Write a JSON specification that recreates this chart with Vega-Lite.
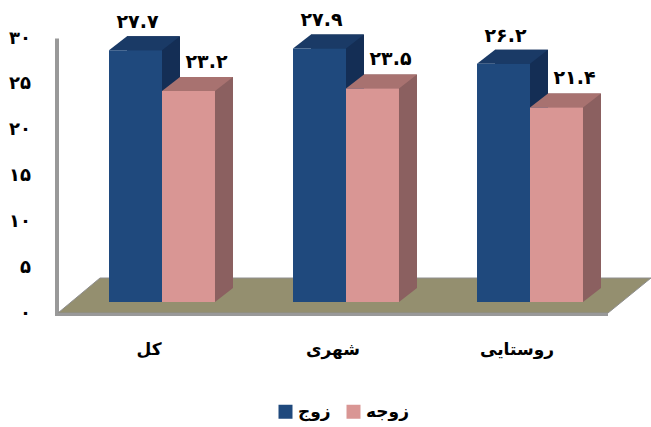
{
"$schema":"https://vega.github.io/schema/vega-lite/v6.json",
"width":651,"height":427,"padding":0,"autosize":{"type":"none"},
"background":"#ffffff",
"config":{"view":{"stroke":null},"font":"DejaVu Sans"},
"data":{"values":[
{"group":"کل","series":"زوج","value":27.7,"label":"۲۷.۷"},
{"group":"کل","series":"زوجه","value":23.2,"label":"۲۳.۲"},
{"group":"شهری","series":"زوج","value":27.9,"label":"۲۷.۹"},
{"group":"شهری","series":"زوجه","value":23.5,"label":"۲۳.۵"},
{"group":"روستایی","series":"زوج","value":26.2,"label":"۲۶.۲"},
{"group":"روستایی","series":"زوجه","value":21.4,"label":"۲۱.۴"}
]},
"layer":[
{"encoding":{
  "x":{"field":"group","type":"nominal","sort":null,"title":null,
    "scale":{"domain":["کل","شهری","روستایی"],"range":[70,622],"paddingInner":0.424,"paddingOuter":0.212},
    "axis":{"orient":"bottom","offset":-86,"domain":false,"ticks":false,"labelPadding":0,"labelOffset":-13,"labelAngle":0,"labelFont":"DejaVu Sans","labelFontWeight":"bold","labelFontSize":17,"labelColor":"#000000","grid":false}},
  "y":{"field":"value","type":"quantitative","title":null,
    "scale":{"domain":[0,30],"range":[313,38],"nice":false,"zero":false},
    "axis":{"orient":"left","offset":-56.5,"values":[0,5,10,15,20,25,30],"grid":false,"ticks":false,"domain":true,"domainColor":"#999999","domainWidth":4,"labelPadding":26,"labelFont":"DejaVu Sans","labelFontWeight":"bold","labelFontSize":18,"labelColor":"#000000",
      "labelExpr":"{'0':'۰','5':'۵','10':'۱۰','15':'۱۵','20':'۲۰','25':'۲۵','30':'۳۰'}[datum.label]"}}
 },
 "layer":[
  {"mark":{"type":"point","opacity":0}},
  {"data":{"values":[{"group":"شهری","value":0}]},
   "mark":{"type":"point","filled":true,"opacity":1,"size":4,"shape":"M-288,0 L-246,-35 L305,-35 L262,0 Z","fill":"#948f6f","stroke":"#8e8e8e","strokeWidth":1}},
  {"data":{"values":[{"group":"شهری","value":0}]},
   "mark":{"type":"point","filled":true,"opacity":1,"size":4,"shape":"M-291,0 L262,0 L262,3 L-291,3 Z","fill":"#999999","strokeWidth":0}}
 ]},
{"encoding":{
  "x":{"field":"group","type":"nominal","sort":null,"title":null,
    "scale":{"domain":["کل","شهری","روستایی"],"range":[70,622],"paddingInner":0.424,"paddingOuter":0.212}},
  "y":{"field":"value","type":"quantitative","title":null,"axis":null,"stack":null,
    "scale":{"domain":[0,30],"range":[302,29.3],"nice":false,"zero":false}}
 },
 "layer":[
  {"mark":{"type":"bar","width":53,"xOffset":{"expr":"datum.series==='زوج' ? -8.5 : 44.5"},"yOffset":-14},
   "encoding":{"y2":{"datum":1.54},"fill":{"condition":{"test":"datum.series==='زوج'","value":"#142e55"},"value":"#8b6060"}}},
  {"mark":{"type":"point","filled":true,"opacity":1,"size":4,"shape":"M26.5,0 L44.5,-14 L26.5,-14 Z","strokeWidth":0},
   "encoding":{"xOffset":{"field":"series","type":"nominal","scale":{"domain":["زوج","زوجه"]}},"y":{"datum":0},"fill":{"condition":{"test":"datum.series==='زوج'","value":"#142e55"},"value":"#8b6060"}}},
  {"mark":{"type":"point","filled":true,"opacity":1,"size":4,"shape":"M-26.5,0 L-8.5,-14 L44.5,-14 L26.5,0 Z","strokeWidth":0},
   "encoding":{"xOffset":{"field":"series","type":"nominal","scale":{"domain":["زوج","زوجه"]}},"fill":{"condition":{"test":"datum.series==='زوج'","value":"#1a3a66"},"value":"#a87270"}}},
  {"mark":{"type":"bar"},
   "encoding":{"xOffset":{"field":"series","type":"nominal","scale":{"domain":["زوج","زوجه"]}},"color":{"field":"series","type":"nominal","title":null,
      "scale":{"domain":["زوج","زوجه"],"range":["#1f497d","#d99694"]},
      "legend":{"orient":"none","legendX":277,"legendY":403,"direction":"horizontal","symbolType":"square","symbolSize":196,"symbolStrokeWidth":0,"labelFont":"DejaVu Sans","labelFontWeight":"bold","labelFontSize":17,"labelColor":"#000000","columnPadding":14,"labelOffset":4}}}},
  {"transform":[{"filter":"datum.series==='زوج'"}],
   "mark":{"type":"text","font":"DejaVu Sans","fontWeight":"bold","fontSize":19,"color":"#000000","align":"center","baseline":"middle","dx":2,"dy":-28},
   "encoding":{"xOffset":{"field":"series","type":"nominal","scale":{"domain":["زوج","زوجه"]}},"text":{"field":"label"}}},
  {"transform":[{"filter":"datum.series==='زوجه'"}],
   "mark":{"type":"text","font":"DejaVu Sans","fontWeight":"bold","fontSize":19,"color":"#000000","align":"center","baseline":"middle","dx":18,"dy":-29},
   "encoding":{"xOffset":{"field":"series","type":"nominal","scale":{"domain":["زوج","زوجه"]}},"text":{"field":"label"}}}
 ]}
],
"resolve":{"scale":{"y":"independent"},"axis":{"y":"independent"}}
}
